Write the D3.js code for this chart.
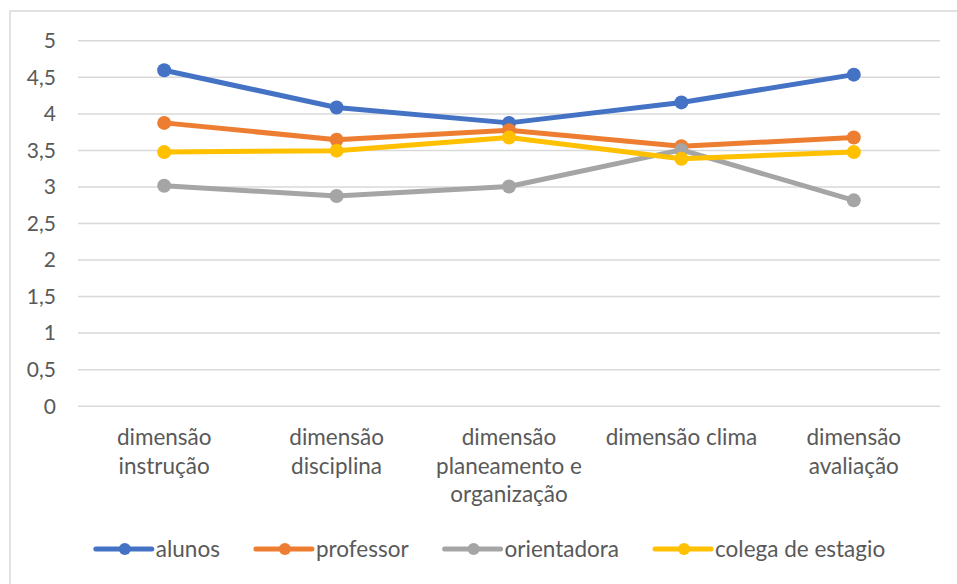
<!DOCTYPE html>
<html><head><meta charset="utf-8">
<script src="https://cdn.jsdelivr.net/npm/d3@7"></script>
<style>
html,body{margin:0;padding:0;background:#fff;}
text{font-family:Lato,"Open Sans",sans-serif;fill:#595959;}
</style></head>
<body>
<svg id="chart" width="957" height="584"></svg>
<script>
const categories = [
  ["dimensão","instrução"],
  ["dimensão","disciplina"],
  ["dimensão","planeamento e","organização"],
  ["dimensão clima"],
  ["dimensão","avaliação"]
];
const seriesNames = ["alunos","professor","orientadora","colega de estagio"];
const alunos      = [4.59, 4.08, 3.87, 4.15, 4.53];
const professor   = [3.87, 3.64, 3.77, 3.55, 3.67];
const orientadora = [3.01, 2.87, 3.00, 3.50, 2.81];
const colega      = [3.47, 3.49, 3.67, 3.38, 3.47];
const yTicks = [0,0.5,1,1.5,2,2.5,3,3.5,4,4.5,5];
const colors = ["#4472C4","#ED7D31","#A5A5A5","#FFC000"];

(function(){
const seriesData = [alunos, professor, orientadora, colega];
const svg = d3.select("#chart");

svg.append("rect").attr("x",10).attr("y",11).attr("width",1000).attr("height",1000)
  .attr("fill","none").attr("stroke","#d9d9d9").attr("stroke-width",1.5);

const pL = 78, pR = 940, pT = 40.3, pB = 405.7;
const x = d3.scaleBand().domain(d3.range(categories.length)).range([pL,pR]);
const y = d3.scaleLinear().domain([0,5]).range([pB,pT]);

const yAxis = d3.axisLeft(y).tickValues(yTicks)
  .tickFormat(d => String(d).replace(".", ","))
  .tickSize(-(pR-pL)).tickPadding(22);
const ga = svg.append("g").attr("transform",`translate(${pL},0)`).call(yAxis);
ga.select(".domain").remove();
ga.selectAll(".tick line").attr("stroke","#d9d9d9").attr("stroke-width",1.5);
ga.selectAll(".tick text").style("font-size","21px").attr("fill","#595959").attr("dy","0.35em");

const xl = svg.append("g");
categories.forEach((lines,i) => {
  const cxx = x(i)+x.bandwidth()/2;
  const t = xl.append("text").attr("x", cxx).attr("y",445)
    .attr("text-anchor","middle").style("font-size","22.5px");
  lines.forEach((ln,j) => t.append("tspan").attr("x", cxx).attr("dy", j===0?0:28.5).text(ln));
});

const line = d3.line().x((d,i)=>x(i)+x.bandwidth()/2).y(d=>y(d));
seriesData.forEach((vals,k) => {
  svg.append("path").datum(vals).attr("d",line).attr("fill","none")
    .attr("stroke",colors[k]).attr("stroke-width",5).attr("stroke-linejoin","round").attr("stroke-linecap","round");
  svg.append("g").selectAll("circle").data(vals).join("circle")
    .attr("cx",(d,i)=>x(i)+x.bandwidth()/2).attr("cy",d=>y(d)).attr("r",7).attr("fill",colors[k]);
});

const lg = svg.append("g");
const items = seriesNames.map((n,k) => {
  const g = lg.append("g");
  g.append("line").attr("x1",0).attr("x2",56).attr("y1",0).attr("y2",0)
    .attr("stroke",colors[k]).attr("stroke-width",5).attr("stroke-linecap","round");
  g.append("circle").attr("cx",29).attr("cy",0).attr("r",6).attr("fill",colors[k]);
  const t = g.append("text").attr("x",60).attr("y",0).attr("dy","0.35em").style("font-size","22.5px").text(n);
  return {g, w: 60 + t.node().getComputedTextLength()};
});
const gap = 36;
const total = d3.sum(items, d=>d.w) + gap*(items.length-1);
let cx = 490.5 - total/2;
items.forEach(it => { it.g.attr("transform",`translate(${cx},549)`); cx += it.w + gap; });
})();
</script>
</body></html>
